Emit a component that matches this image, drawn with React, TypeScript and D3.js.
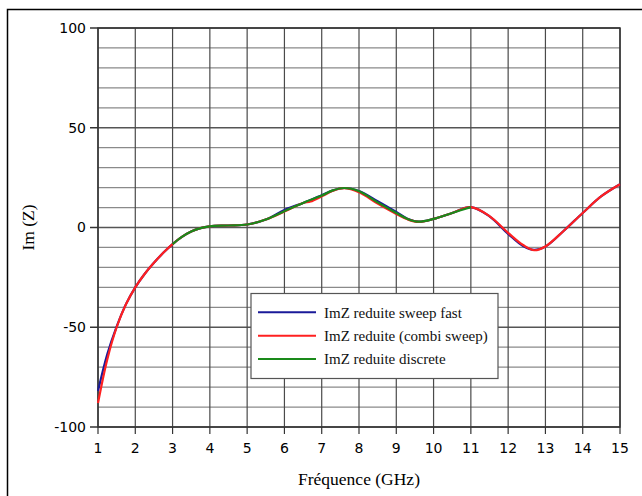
import React, { useEffect } from 'react';
import * as d3 from 'd3';

const freqs = [1, 1.25, 1.5, 1.75, 2, 2.25, 2.5, 2.75, 3, 3.25, 3.5, 3.75, 4, 4.5, 5, 5.5, 6, 6.5, 6.7, 7, 7.3, 7.6, 8, 8.5, 9, 9.3, 9.6, 10, 10.5, 11, 11.5, 12, 12.4, 12.7, 13, 13.5, 14, 14.5, 15];
const sweepFast = [-82, -63.5, -49.7, -38.4, -30, -23.3, -17.7, -12.7, -8.3, -4.7, -2.0, -0.3, 0.6, 1, 1.5, 4, 8.8, 12.3, 13.8, 16.2, 18.6, 19.8, 18.3, 13.2, 7.8, 4.4, 2.9, 4.3, 7.3, 10.2, 5.6, -3.2, -9.3, -11.2, -9.6, -1.5, 7.3, 15.7, 21.7];
const combiSweep = [-88, -66, -50, -38.5, -30, -23.3, -17.7, -12.7, -8.3, -4.7, -2.0, -0.3, 0.6, 1, 1.5, 4, 8, 12.3, 13.0, 15.6, 18.4, 19.7, 17.7, 12.0, 6.8, 4.1, 2.8, 4.3, 7.3, 10.2, 5.7, -2.7, -8.8, -11.4, -9.5, -1.5, 7.3, 15.7, 21.7];
const freqsDiscrete = [3, 3.25, 3.5, 3.75, 4, 4.5, 5, 5.5, 6, 6.5, 7, 7.3, 7.6, 8, 8.5, 9, 9.3, 9.6, 10, 10.5, 11];
const discrete = [-8.3, -4.7, -2.0, -0.3, 0.6, 1, 1.5, 4, 8.2, 12.3, 16, 18.6, 19.8, 18.2, 12.6, 7.3, 4.3, 2.9, 4.3, 7.3, 10.2];

const xTickValues = [1, 2, 3, 4, 5, 6, 7, 8, 9, 10, 11, 12, 13, 14, 15];
const yTickValues = [-100, -50, 0, 50, 100];
const yGridValues = [-100, -90, -80, -70, -60, -50, -40, -30, -20, -10, 0, 10, 20, 30, 40, 50, 60, 70, 80, 90, 100];

const seriesNames = ['ImZ reduite sweep fast', 'ImZ reduite (combi sweep)', 'ImZ reduite discrete'];
const seriesColors = ['#1a1a99', '#ff2020', '#1a8a1a'];

const W = 642;
const H = 496;
const left = 98;
const right = 620;
const top = 28;
const bottom = 427;

export default function App() {
  useEffect(() => {
    document.body.style.margin = '0';
    document.body.style.overflow = 'hidden';
  }, []);

  const x = d3.scaleLinear().domain([1, 15]).range([left, right]);
  const y = d3.scaleLinear().domain([-100, 100]).range([bottom, top]);

  const line = (xs: number[], ys: number[]) =>
    d3
      .line<number>()
      .x((_, i) => x(xs[i]))
      .y((d) => y(d))
      .curve(d3.curveCatmullRom.alpha(0.5))(ys) || '';

  const series = [
    { xs: freqs, ys: sweepFast, color: seriesColors[0] },
    { xs: freqs, ys: combiSweep, color: seriesColors[1] },
    { xs: freqsDiscrete, ys: discrete, color: seriesColors[2] },
  ];

  const serif = '"Liberation Serif", "DejaVu Serif", serif';
  const sans = '"DejaVu Sans", sans-serif';

  return (
    <svg width={W} height={H} style={{ position: 'absolute', left: 0, top: 0, background: '#fff' }}>
      <rect x={0} y={0} width={W} height={H} fill="#fff" />
      <rect x={7.5} y={9.5} width={800} height={700} fill="none" stroke="#000" strokeWidth={1.5} />

      {/* horizontal grid */}
      {yGridValues.map((v) => (
        <line
          key={'h' + v}
          x1={left}
          x2={right}
          y1={y(v)}
          y2={y(v)}
          stroke={v % 50 === 0 ? '#555' : '#8a8a8a'}
          strokeWidth={v % 50 === 0 ? 1.5 : 1.2}
        />
      ))}
      {/* vertical grid */}
      {xTickValues.map((v) => (
        <line key={'v' + v} x1={x(v)} x2={x(v)} y1={top} y2={bottom} stroke="#4a4a4a" strokeWidth={1.2} />
      ))}

      {/* plot border */}
      <rect x={left} y={top} width={right - left} height={bottom - top} fill="none" stroke="#333" strokeWidth={1.5} />

      {/* series */}
      {series.map((s, i) => (
        <path key={'s' + i} d={line(s.xs, s.ys)} fill="none" stroke={s.color} strokeWidth={2.2} strokeLinejoin="round" />
      ))}

      {/* y axis ticks and labels */}
      {yTickValues.map((v) => (
        <g key={'yt' + v}>
          <line x1={left - 8} x2={left} y1={y(v)} y2={y(v)} stroke="#333" strokeWidth={1.5} />
          <text x={left - 12} y={y(v)} dy="0.35em" textAnchor="end" fontFamily={sans} fontSize={14} fill="#000">
            {v}
          </text>
        </g>
      ))}
      {/* x axis ticks and labels */}
      {xTickValues.map((v) => (
        <g key={'xt' + v}>
          <line x1={x(v)} x2={x(v)} y1={bottom} y2={bottom + 7} stroke="#333" strokeWidth={1.2} />
          <text x={x(v)} y={bottom + 26} textAnchor="middle" fontFamily={sans} fontSize={14} fill="#000">
            {v}
          </text>
        </g>
      ))}

      {/* axis titles */}
      <text x={(left + right) / 2} y={485} textAnchor="middle" fontFamily={serif} fontSize={17.5} fill="#000">
        Fréquence (GHz)
      </text>
      <text
        transform={`translate(34, ${(top + bottom) / 2}) rotate(-90)`}
        textAnchor="middle"
        fontFamily={serif}
        fontSize={17.5}
        fill="#000"
      >
        Im (Z)
      </text>

      {/* legend */}
      <g>
        <rect x={251} y={293.5} width={247} height={85} fill="#fff" stroke="#555" strokeWidth={1.2} />
        {seriesNames.map((name, i) => (
          <g key={'lg' + i}>
            <line x1={258} x2={316} y1={312.3 + i * 23.4} y2={312.3 + i * 23.4} stroke={seriesColors[i]} strokeWidth={2} />
            <text x={324} y={312.3 + i * 23.4} dy="0.35em" fontFamily={serif} fontSize={15} fill="#111">
              {name}
            </text>
          </g>
        ))}
      </g>
    </svg>
  );
}
